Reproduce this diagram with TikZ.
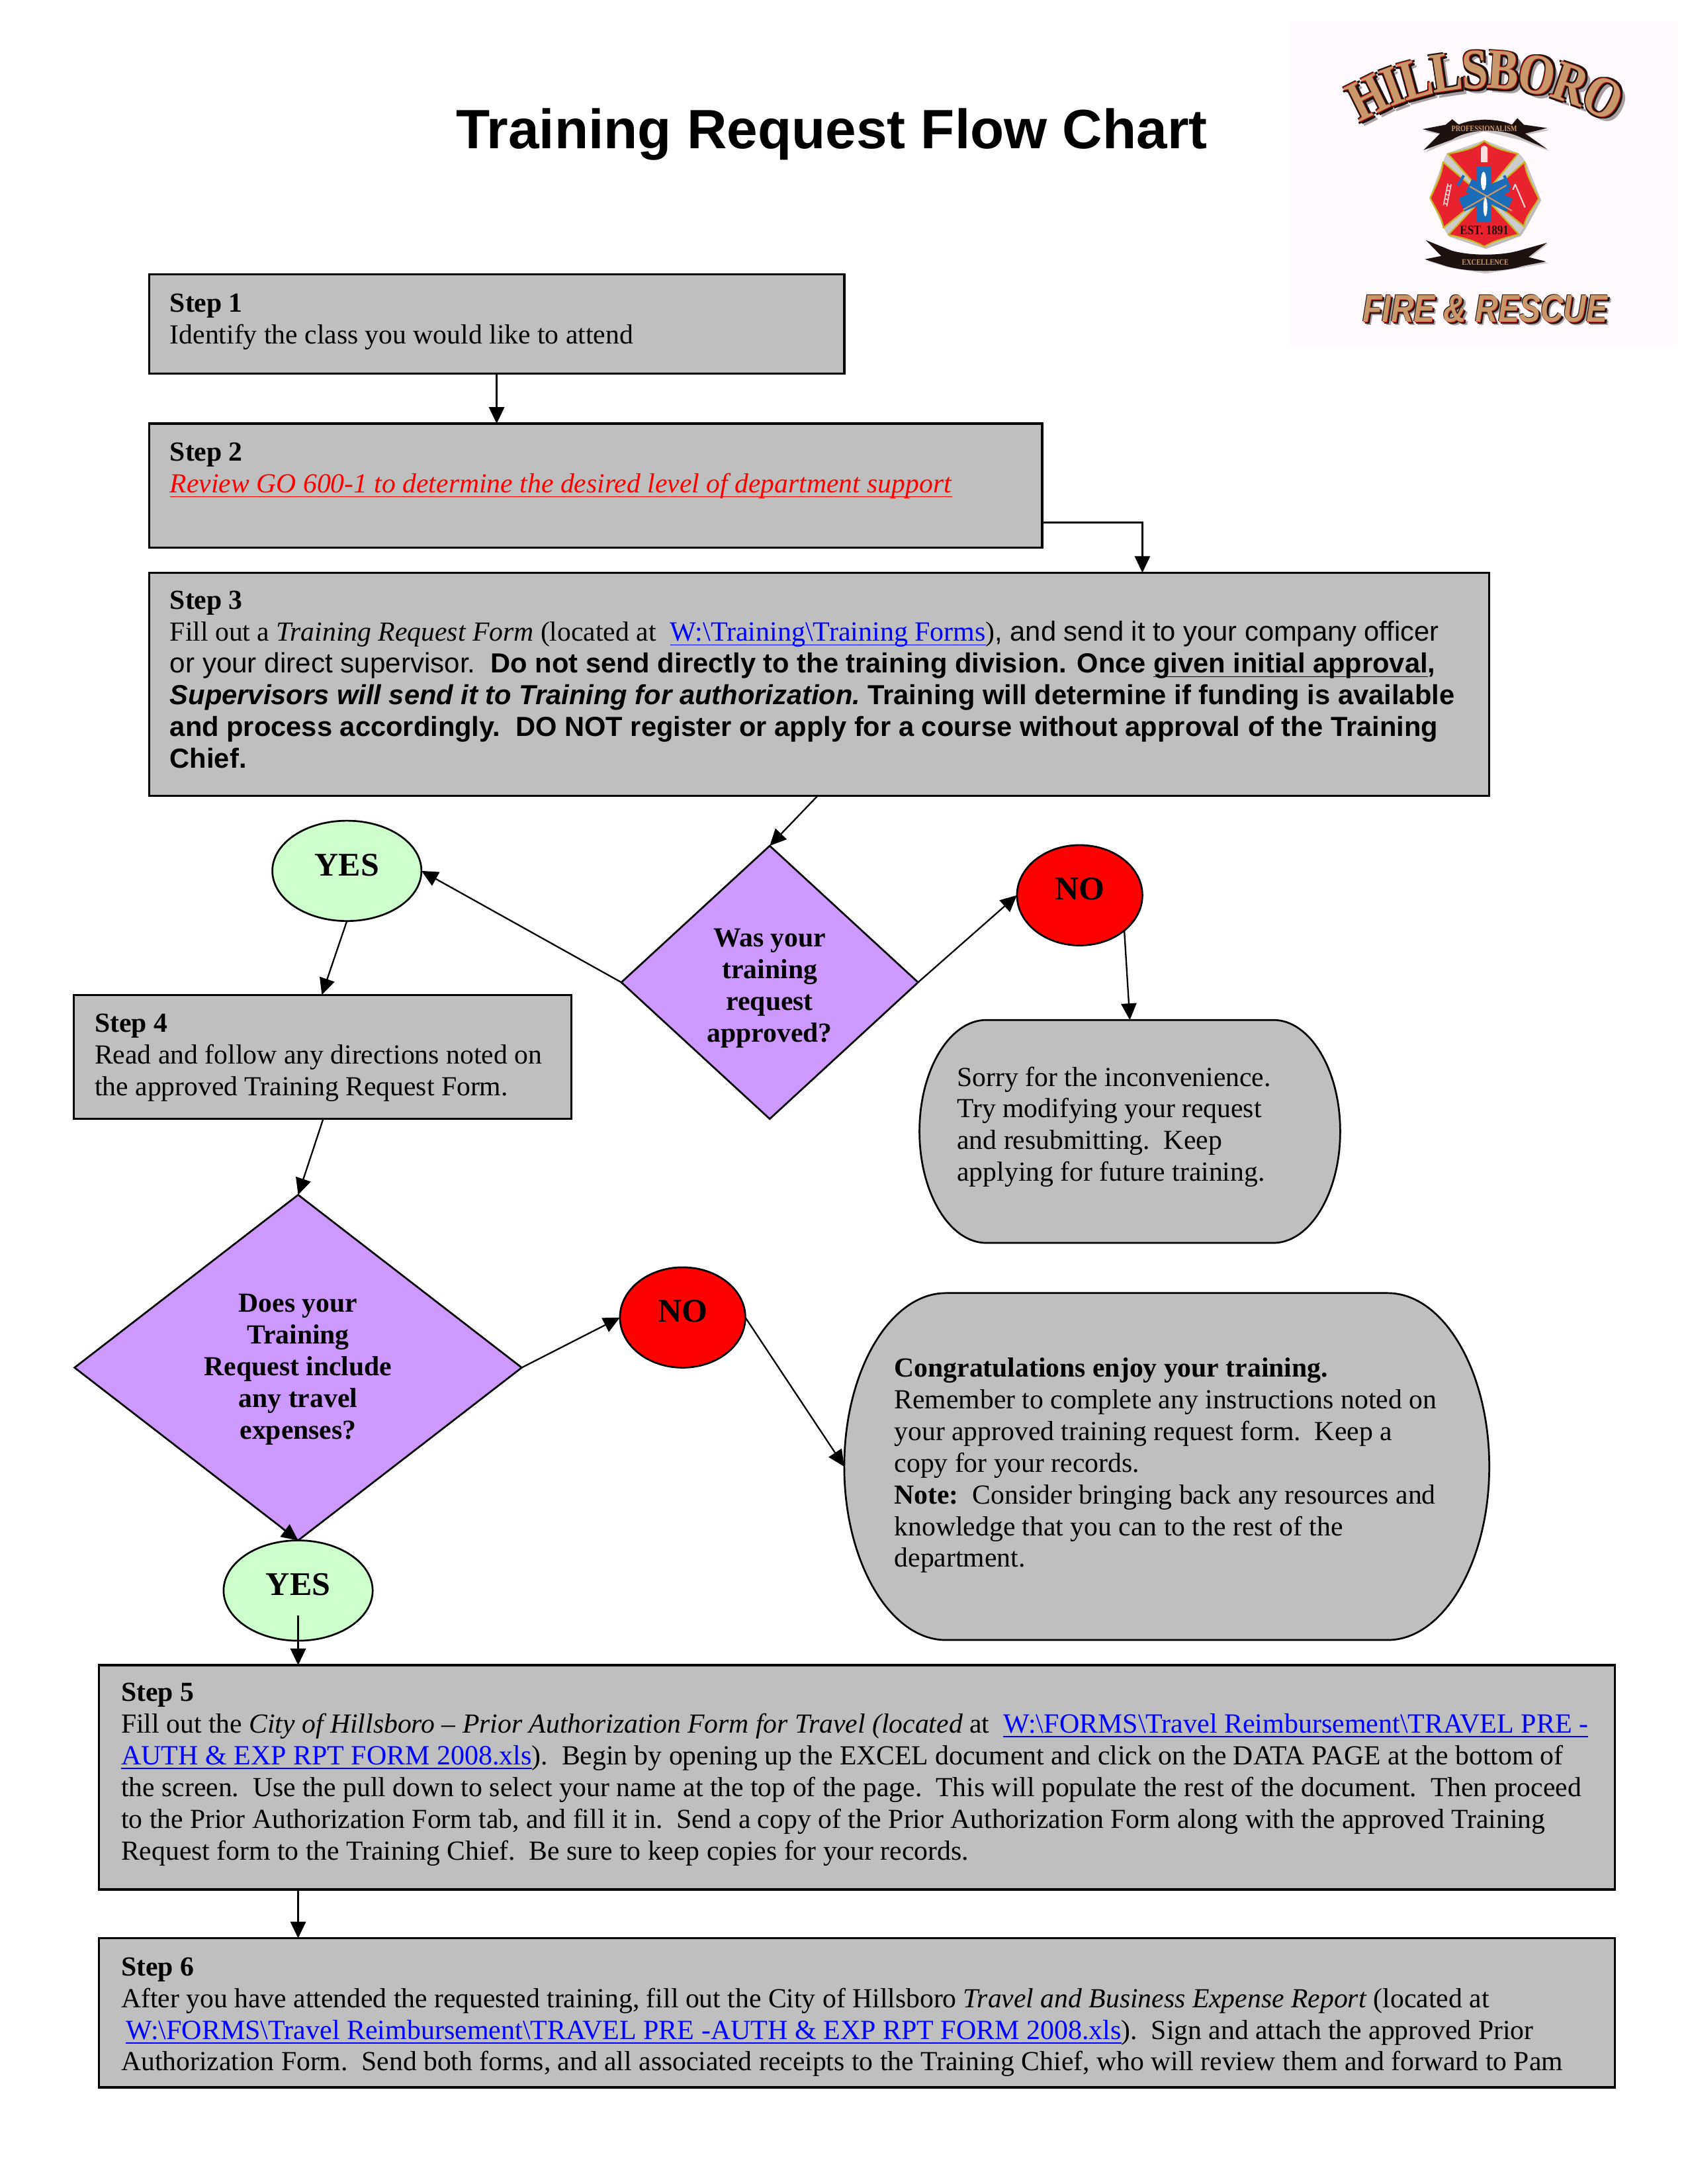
\documentclass[tikz,border=0pt]{standalone}
\usepackage{fontspec}
\setmainfont{Liberation Serif}
\setsansfont{Liberation Sans}
\usetikzlibrary{arrows.meta,calc,shapes.geometric}
\definecolor{boxgrey}{HTML}{BFBFBF}
\definecolor{decpurple}{HTML}{CC99FF}
\definecolor{yesgreen}{HTML}{CCFFCC}
\definecolor{linkblue}{HTML}{0000FF}
\definecolor{logobg}{HTML}{FEFAFE}
\definecolor{logotan}{HTML}{C8986A}
\definecolor{logored}{HTML}{C8201C}
\definecolor{logodark}{HTML}{1E1210}
\definecolor{logoshadow}{HTML}{A8A0A0}
\definecolor{crossred}{HTML}{E8232E}
\definecolor{crossyel}{HTML}{C8B428}
\definecolor{starblue}{HTML}{1B6DB8}
\def\u{0.5053pt}
\newcommand{\ulx}[1]{\underline{\smash{#1}}}
\newcommand{\lnk}[1]{{\fontsize{10.08}{11.5}\selectfont\textcolor{linkblue}{\ulx{#1}}}}
\newcommand{\bsl}{\textbackslash}
\newcommand{\first}{\rule{0pt}{7pt}}
\newcommand{\rbox}[6]{% x1 y1 x2 y2 rx ry
  \draw[roundbox] ({#1+#5},#2) -- ({#3-#5},#2)
   .. controls ({#3-#5*0.45},#2) and (#3,{#2+#6*0.45}) .. (#3,{#2+#6})
   -- (#3,{#4-#6})
   .. controls (#3,{#4-#6*0.45}) and ({#3-#5*0.45},#4) .. ({#3-#5},#4)
   -- ({#1+#5},#4)
   .. controls ({#1+#5*0.45},#4) and (#1,{#4-#6*0.45}) .. (#1,{#4-#6})
   -- (#1,{#2+#6})
   .. controls (#1,{#2+#6*0.45}) and ({#1+#5*0.45},#2) .. ({#1+#5},#2) -- cycle;}
\tikzset{
  stepbox/.style={draw=black,line width=0.8pt,fill=boxgrey,anchor=north west,inner sep=0pt,outer sep=0pt},
  roundbox/.style={draw=black,line width=0.65pt,fill=boxgrey},
  anchorbox/.style={anchor=north west,inner sep=0pt,outer sep=0pt},
  body/.style={anchor=north west,inner sep=0pt,outer sep=0pt,align=left,font=\fontsize{10}{11.5}\selectfont},
  decision/.style={diamond,draw=black,line width=0.65pt,fill=decpurple,inner sep=0pt,outer sep=0pt,align=center,font=\fontsize{10}{11.5}\selectfont\bfseries},
  yesnode/.style={ellipse,draw=black,line width=0.65pt,fill=yesgreen,inner sep=0pt,outer sep=0pt,minimum width=107*\u,minimum height=72*\u,font=\fontsize{12}{13}\selectfont\bfseries},
  nonode/.style={ellipse,draw=black,line width=0.65pt,fill=red,inner sep=0pt,outer sep=0pt,minimum width=90*\u,minimum height=72*\u,font=\fontsize{12}{13}\selectfont\bfseries},
  arr/.style={-{Triangle[length=6pt,width=5.6pt]},line width=0.55pt,black},
}
\begin{document}
\begin{tikzpicture}[x=\u,y=-\u]
\useasboundingbox (0,0) rectangle (1211.2,1567.4);

% title
\node[font=\fontsize{20.1}{24}\selectfont\sffamily\bfseries,inner sep=0pt] (title) at (597,96.5) {Training Request Flow Chart};

% logo
\fill[logobg] (926,15) rectangle (1204,250);
\foreach \dx/\dy/\c [count=\i] in {3.5/3.5/logoshadow,-0.9/-0.9/logodark,1.8/1.8/logodark,1.8/-0.7/logodark,-0.7/1.8/logodark,0.9/0.9/logodark,0.5/0.5/logored,-0.3/-0.3/logored,0/0/logotan}{
  \foreach \l/\a [count=\j] in {H/116.4,I/110.5,L/105.2,L/98.4,S/92.2,B/86,O/78.7,R/71.1,O/63.5}{
    \node[text=\c,font=\fontsize{20.6}{22}\selectfont\bfseries,inner sep=0pt,rotate=\a-90,xscale=0.82,name=hb\i-\j]
      at ({1066+190*cos(\a)+\dx},{240-190*sin(\a)+\dy}) {\l};
  }
}
\foreach \dx/\dy/\c [count=\i] in {2.5/2.5/logoshadow,-0.5/-0.5/logodark,1.4/1.4/logodark,0.4/0.4/logored,0/0/logotan}{
  \node[text=\c,font=\fontsize{14}{16}\selectfont\sffamily\bfseries\itshape,inner sep=0pt,xscale=0.82,name=fr\i]
      at ({1066+\dx},{221.5+\dy}) {FIRE \& RESCUE};
}
\begin{scope}[shift={(1007.6,80.8)},x=0.08pt,y=-0.08pt]
  % top ribbon
  \fill[logoshadow,opacity=.6] (95,85) -- (200,60) -- (365,30) -- (530,60) -- (660,80) -- (560,100) -- (660,175) -- (530,125) -- (365,85) -- (220,130) -- (100,180) -- (170,100) -- cycle;
  \fill[logodark] (85,75) -- (190,55) -- (220,30) -- (250,55) .. controls (310,25) and (430,25) .. (490,55) -- (515,25) -- (545,55) -- (650,70) -- (550,95) -- (650,165) -- (535,115) .. controls (450,70) and (300,70) .. (220,122) -- (90,170) -- (165,95) -- cycle;
  \node[text=logotan,font=\fontsize{3}{4}\selectfont\bfseries,inner sep=0pt,xscale=0.82] (prof) at (365,72) {PROFESSIONALISM};
  % bottom ribbon
  \fill[logoshadow,opacity=.6] (110,585) -- (230,630) -- (370,655) -- (530,630) -- (655,595) -- (570,660) -- (655,682) -- (550,700) -- (370,730) -- (195,700) -- (105,672) -- (175,655) -- cycle;
  \fill[logodark] (100,578) -- (215,625) .. controls (300,650) and (440,650) .. (525,625) -- (650,590) -- (565,655) -- (645,675) -- (540,695) .. controls (450,725) and (290,725) .. (190,695) -- (95,665) -- (170,650) -- cycle;
  \node[text=logotan,font=\fontsize{3}{4}\selectfont\bfseries,inner sep=0pt,xscale=0.82] (excel) at (370,678) {EXCELLENCE};
  % maltese cross
  \fill[logoshadow,opacity=.7,shift={(8,8)}] (365,125) -- (522,185) -- (548,222) -- (615,390) -- (545,518) -- (522,552) -- (365,610) -- (200,555) -- (180,522) -- (118,385) -- (178,222) -- (195,185) -- cycle;
  \fill[white!80!black] (365,125) -- (522,185) -- (548,222) -- (615,390) -- (545,518) -- (522,552) -- (365,610) -- (200,555) -- (180,522) -- (118,385) -- (178,222) -- (195,185) -- cycle;
  \begin{scope}[fill=crossred,draw=crossyel,line width=0.55pt,line join=round]
    \filldraw (365,128) .. controls (410,165) and (470,175) .. (518,187) -- (365,372) -- (200,187) .. controls (260,175) and (320,165) .. (365,128) -- cycle;
    \filldraw (548,224) .. controls (552,280) and (590,340) .. (612,390) .. controls (590,430) and (552,470) .. (545,515) -- (372,378) -- cycle;
    \filldraw (522,552) .. controls (470,565) and (410,580) .. (365,608) .. controls (320,580) and (260,565) .. (202,554) -- (365,380) -- cycle;
    \filldraw (180,522) .. controls (172,470) and (140,430) .. (120,388) .. controls (140,340) and (172,290) .. (178,224) -- (360,378) -- cycle;
  \end{scope}
  % star of life
  \draw[starblue,line width=5.4pt] (365,245) -- (365,495);
  \draw[starblue,line width=5.2pt] (262,418) -- (470,328);
  \draw[starblue,line width=5.2pt] (295,330) -- (480,420);
  \draw[logotan,line width=0.5pt] (270,440) -- (465,330);
  \draw[logotan,line width=0.5pt] (300,335) -- (490,445);
  \fill[white] (362,310) ellipse[x radius=12,y radius=42];
  \fill[white] (370,428) ellipse[x radius=9,y radius=42];
  \draw[starblue,line width=1pt] (272,285) -- (246,330);
  \draw[starblue,line width=1pt] (455,285) -- (480,340);
  % ladder, pike, hydrant
  \draw[white!80!crossred,line width=0.4pt] (215,325) -- (195,425) (200,322) -- (180,420);
  \foreach \t in {0.1,0.3,0.5,0.7,0.9}{\draw[white!80!crossred,line width=0.4pt] ($(215,325)!\t!(195,425)$) -- ($(200,322)!\t!(180,420)$);}
  \draw[white!80!crossred,line width=0.5pt] (505,325) -- (550,430) (505,325) -- (495,350);
  \fill[white!85!crossred] (350,225) -- (350,165) .. controls (350,145) and (380,145) .. (380,165) -- (380,225) -- cycle;
  \node[text=logodark,font=\fontsize{4.8}{6}\selectfont\bfseries,inner sep=0pt,xscale=0.85] (est) at (365,535) {EST. 1891};
\end{scope}

% boxes
\node[stepbox,minimum width=499*\u,minimum height=71*\u] (step1) at (107,197) {};
\node[stepbox,minimum width=641*\u,minimum height=89*\u] (step2) at (107,304) {};
\node[stepbox,minimum width=962*\u,minimum height=160*\u] (step3) at (107,411) {};
\node[stepbox,minimum width=357*\u,minimum height=89*\u] (step4) at (53,714) {};
\node[stepbox,minimum width=1088*\u,minimum height=161*\u] (step5) at (71,1195) {};
\node[stepbox,minimum width=1088*\u,minimum height=107*\u] (step6) at (71,1391) {};

\node[decision,shape aspect=1.087,minimum width=213*\u,minimum height=196*\u] (dec1) at (552.5,705) {\rule{0pt}{10.8pt}Was your\\training\\request\\approved?};
\node[decision,shape aspect=1.294,minimum width=321*\u,minimum height=248*\u] (dec2) at (214,981.5) {\rule{0pt}{7.8pt}Does your\\Training\\Request include\\any travel\\expenses?};

\node[yesnode] (yes1) at (249,625) {\raisebox{4.5pt}{YES}};
\node[nonode] (no1) at (775,642.5) {\raisebox{4.5pt}{NO}};
\node[nonode] (no2) at (490,945.5) {\raisebox{4.5pt}{NO}};
\node[yesnode] (yes2) at (214,1141.5) {\raisebox{4.5pt}{YES}};

\rbox{660}{732}{962}{892}{48}{80}
\node[anchorbox,minimum width=302*\u,minimum height=160*\u] (sorry) at (660,732) {};
\rbox{606}{928}{1069}{1177}{73}{124.5}
\node[anchorbox,minimum width=463*\u,minimum height=249*\u] (congrats) at (606,928) {};

% texts
\node[body] (t1) at (122,210) {\first\textbf{Step 1}\\Identify the class you would like to attend};
\node[body] (t2) at (122,317) {\first\textbf{Step 2}\\\textcolor{red}{\ulx{\textit{Review GO 600-1 to determine the desired level of department support}}}};
\node[body] (t3) at (122,423.5) {\first\textbf{Step 3}\\
Fill out a \textit{Training Request Form} (located at \ \lnk{W:\bsl Training\bsl Training Forms}){\sffamily, and send it to your company officer}\\
{\sffamily{\fontsize{10.12}{11.5}\selectfont or your direct supervisor.}\ \ \textbf{Do not send directly to the training division. Once \ulx{given initial approval},}}\\
{\sffamily\bfseries\textit{Supervisors will send it to Training for authorization.}\hspace{-1pt} Training will determine if funding is available}\\
{\sffamily\bfseries and process accordingly.\ \ DO NOT register or apply for a course without approval of the Training}\\
{\sffamily\bfseries Chief.}};
\node[body] (t4) at (68,727) {\first\textbf{Step 4}\\Read and follow any directions noted on\\the approved Training Request Form.};
\node[body] (t5) at (87,1207) {\first\textbf{Step 5}\\
Fill out the \textit{City of Hillsboro – Prior Authorization Form for Travel (located} at \ \lnk{W:\bsl FORMS\bsl Travel Reimbursement\bsl TRAVEL PRE -}\\
\lnk{AUTH \& EXP RPT FORM 2008.xls}).\ \ Begin by opening up the EXCEL document and click on the DATA PAGE at the bottom of\\
the screen.\ \ Use the pull down to select your name at the top of the page.\ \ This will populate the rest of the document.\ \ Then proceed\\
to the Prior Authorization Form tab, and fill it in.\ \ Send a copy of the Prior Authorization Form along with the approved Training\\
Request form to the Training Chief.\ \ Be sure to keep copies for your records.};
\node[body] (t6) at (87,1404) {\first\textbf{Step 6}\\
After you have attended the requested training, fill out the City of Hillsboro \textit{Travel and Business Expense Report} (located at\\
\,\lnk{W:\bsl FORMS\bsl Travel Reimbursement\bsl TRAVEL PRE -AUTH \& EXP RPT FORM 2008.xls}).\ \ Sign and attach the approved Prior\\
Authorization Form.\ \ Send both forms, and all associated receipts to the Training Chief, who will review them and forward to Pam};
\node[body] (t7) at (687,765.5) {\first Sorry for the inconvenience.\\Try modifying your request\\and resubmitting.\ \ Keep\\applying for future training.};
\node[body] (t8) at (642,974.3) {\first\textbf{Congratulations enjoy your training.}\\Remember to complete any instructions noted on\\your approved training request form.\ \ Keep a\\copy for your records.\\\textbf{Note:}\ \ Consider bringing back any resources and\\knowledge that you can to the rest of the\\department.};

% connectors
\draw[arr] (step1.south) -- (step2.north -| step1.south);
\draw[arr] ($(step2.south east)+(0,-18)$) -| ($(step3.north west)+(713,0)$);
\draw[arr] ($(step3.south west)+(480,0)$) -- (dec1.north);
\draw[arr] (dec1.west) -- (yes1.east);
\draw[arr] (dec1.east) -- (no1.west);
\draw[arr] (yes1.south) -- ($(step4.north west)+(178,0)$);
\draw[arr] ($(no1.center)+(32,25)$) -- ($(sorry.north west)+(151,0)$);
\draw[arr] ($(step4.south west)+(179,0)$) -- (dec2.north);
\draw[arr] (dec2.east) -- (no2.west);
\draw[arr] (no2.east) -- (congrats.west);
\draw[arr] ($(dec2.south)+(-12,-9)$) -- (yes2.north);
\draw[arr] (yes2.center) ++(0,18) -- (step5.north -| yes2.center);
\draw[arr] (step5.south -| yes2.center) -- (step6.north -| yes2.center);
\end{tikzpicture}
\end{document}
